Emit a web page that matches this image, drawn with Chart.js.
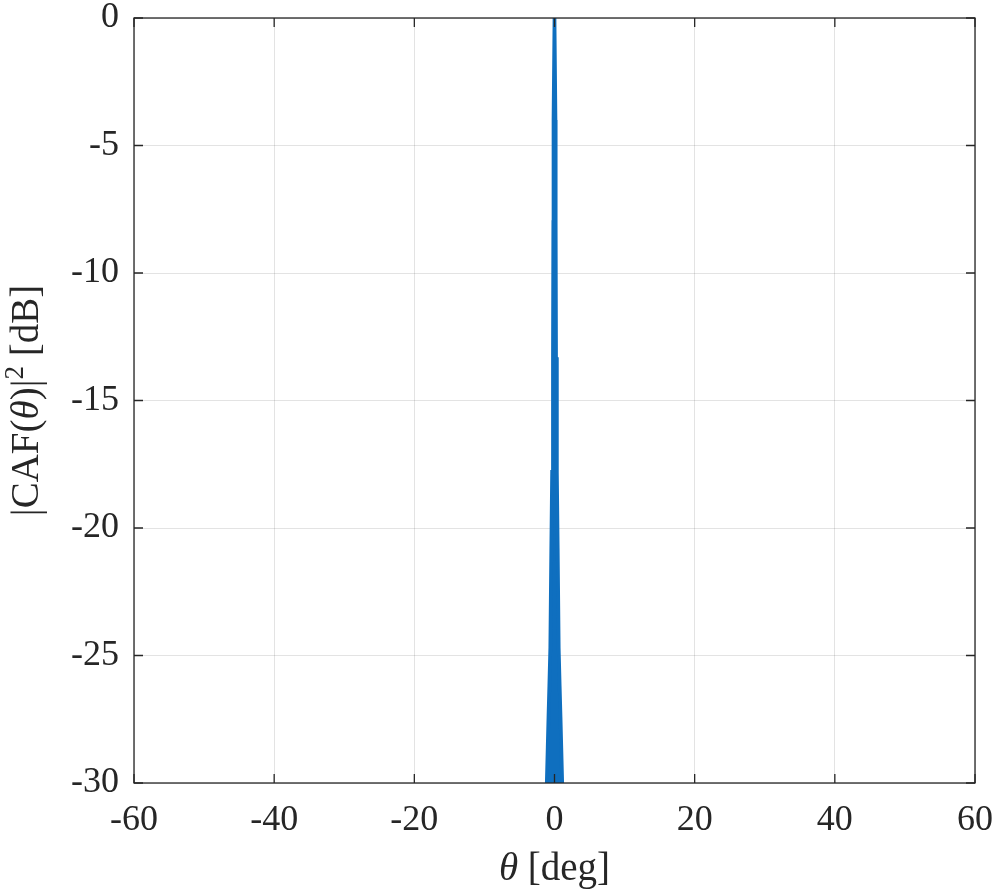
<!DOCTYPE html>
<html lang="en">
<head>
  <meta charset="UTF-8">
  <title>CAF main lobe</title>
  <script src="https://cdn.jsdelivr.net/npm/chart.js"></script>
  <style>
    body {
      margin: 0;
      background-color: #ffffff;
    }
  </style>
</head>
<body>

  <canvas id="cafChart" width="996" height="895"></canvas>

  <script>
    // envelope of the plotted CAF, theta in degrees
    const thetaDeg = [-1.10, -0.97, -0.86, -0.74, -0.60, -0.46, -0.34, -0.22, -0.17, -0.14, 0,
                      0.14, 0.17, 0.22, 0.34, 0.46, 0.60, 0.74, 0.86, 0.97, 1.10];
    const cafDb = [-30, -28.6, -27.4, -26.2, -24.7, -20.8, -17.8, -13.3, -8, -4, 0,
                   -4, -8, -13.3, -17.8, -20.8, -24.7, -26.2, -27.4, -28.6, -30];

    const xTicks = [-60, -40, -20, 0, 20, 40, 60];
    const yTicks = [-30, -25, -20, -15, -10, -5, 0];

    const FONT = "'Liberation Serif', 'DejaVu Serif', serif";
    const INK = '#262626';

    // MATLAB style box with inward ticks, plus the axis titles
    const frame = {
      id: 'frame',
      afterDraw(chart) {
        const { ctx, chartArea: a, scales: { x, y } } = chart;
        ctx.save();
        ctx.strokeStyle = INK;
        ctx.lineWidth = 1.3;
        ctx.strokeRect(a.left, a.top, a.right - a.left, a.bottom - a.top);
        ctx.beginPath();
        xTicks.forEach(v => {
          const px = x.getPixelForValue(v);
          ctx.moveTo(px, a.bottom); ctx.lineTo(px, a.bottom - 9);
          ctx.moveTo(px, a.top); ctx.lineTo(px, a.top + 9);
        });
        yTicks.forEach(v => {
          const py = y.getPixelForValue(v);
          ctx.moveTo(a.left, py); ctx.lineTo(a.left + 9, py);
          ctx.moveTo(a.right, py); ctx.lineTo(a.right - 9, py);
        });
        ctx.stroke();

        ctx.fillStyle = INK;
        ctx.textBaseline = 'alphabetic';
        ctx.textAlign = 'left';

        // x title: θ [deg]
        const reg = '39px ' + FONT;
        const ita = 'italic 39px ' + FONT;
        const xParts = [[ita, '\u03B8', 0], [reg, ' [deg]', 0]];
        drawParts(ctx, xParts, (a.left + a.right) / 2, 880);

        // y title: |CAF(θ)|² [dB]
        ctx.translate(38, (a.top + a.bottom) / 2);
        ctx.rotate(-Math.PI / 2);
        const yParts = [[reg, '|CAF(', 0], [ita, '\u03B8', 0], [reg, ')|', 0],
                        ['27px ' + FONT, '2', -15], [reg, ' [dB]', 0]];
        drawParts(ctx, yParts, 0, 0);
        ctx.restore();
      }
    };

    function drawParts(ctx, parts, cx, by) {
      let total = 0;
      parts.forEach(p => { ctx.font = p[0]; total += ctx.measureText(p[1]).width; });
      let px = cx - total / 2;
      parts.forEach(p => {
        ctx.font = p[0];
        ctx.fillText(p[1], px, by + p[2]);
        px += ctx.measureText(p[1]).width;
      });
    }

    new Chart(document.getElementById('cafChart'), {
      type: 'scatter',
      data: {
        datasets: [{
          data: thetaDeg.map((t, i) => ({ x: t, y: cafDb[i] })),
          showLine: true,
          borderColor: '#0f6fbf',
          backgroundColor: '#0f6fbf',
          borderWidth: 3.7,
          pointRadius: 0,
          fill: 'start',
          tension: 0
        }]
      },
      options: {
        responsive: false,
        animation: false,
        layout: {
          padding: { top: 18, right: 21, left: 0, bottom: 0 }
        },
        plugins: {
          legend: { display: false },
          tooltip: { enabled: false }
        },
        scales: {
          x: {
            type: 'linear',
            min: -60,
            max: 60,
            afterBuildTicks: s => { s.ticks = xTicks.map(v => ({ value: v })); },
            afterFit: s => { s.height = 112; s.paddingLeft = 0; s.paddingRight = 0; },
            grid: { color: 'rgba(0,0,0,0.11)', lineWidth: 1, drawTicks: false },
            border: { display: false },
            ticks: {
              color: INK,
              padding: 16,
              maxRotation: 0,
              font: { family: FONT, size: 36 },
              callback: v => String(v)
            }
          },
          y: {
            min: -30,
            max: 0,
            afterBuildTicks: s => { s.ticks = yTicks.map(v => ({ value: v })); },
            afterFit: s => { s.width = 134; s.paddingTop = 0; s.paddingBottom = 0; },
            grid: { color: 'rgba(0,0,0,0.11)', lineWidth: 1, drawTicks: false },
            border: { display: false },
            ticks: {
              color: INK,
              padding: 15,
              font: { family: FONT, size: 36 },
              callback: v => String(v)
            }
          }
        }
      },
      plugins: [frame]
    });
  </script>

</body>
</html>
